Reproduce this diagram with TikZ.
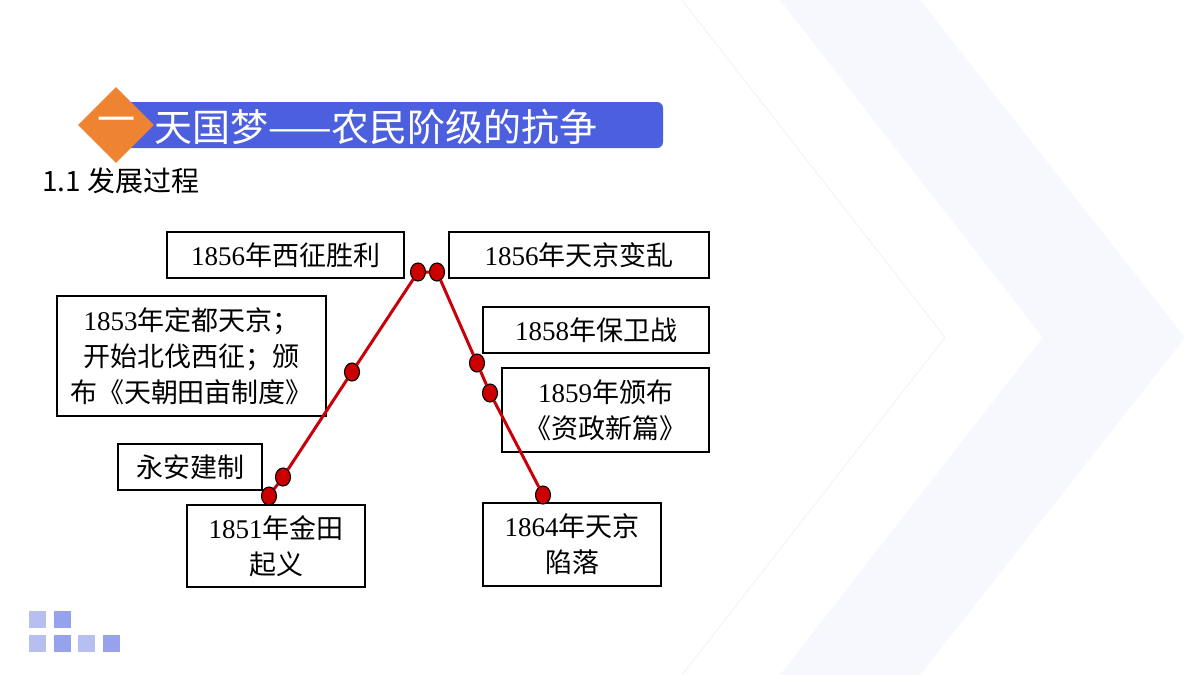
\documentclass[tikz,border=0pt]{standalone}
\usepackage{fontspec}
\usepackage{xcolor}
\usepackage{tikz}
\usetikzlibrary{shapes.geometric}
\setmainfont{Liberation Serif}
\newfontfamily\cjk{Noto Sans CJK SC}
\newcommand{\zh}[1]{{\cjk #1}}
\definecolor{bar}{HTML}{4B5FDF}
\definecolor{badge}{HTML}{EE8432}
\definecolor{chev}{HTML}{F7F8FD}
\definecolor{chevline}{HTML}{F1F2FA}
\definecolor{linered}{HTML}{C8000A}
\definecolor{dotred}{HTML}{CC0000}
\definecolor{sqlight}{HTML}{B7BEF0}
\definecolor{sqdark}{HTML}{97A2EC}
\tikzset{
  evbox/.style={draw, line width=1.6pt, fill=white, align=center, inner sep=0pt,
    font=\fontsize{27}{36}\selectfont},
  dot/.style={ellipse, draw=black, line width=1.1pt, fill=dotred, inner sep=0pt,
    minimum width=15pt, minimum height=18pt},
  redline/.style={draw=linered, line width=3pt},
  sq/.style={minimum size=17pt, inner sep=0pt}
}
\begin{document}
\begin{tikzpicture}[x=1pt, y=-1pt]
\useasboundingbox (0,0) rectangle (1200,675);
\fill[white] (0,0) rectangle (1200,675);
% background chevrons
\fill[chev] (780,0) -- (920,0) -- (1185,337.5) -- (920,675) -- (780,675) -- (1043,337.5) -- cycle;
\draw[chevline, line width=0.8pt] (682,0) -- (945,337.5) -- (682,675);
% header
\fill[bar, rounded corners=6pt] (120,102) rectangle (663,148);
\node[diamond, fill=badge, minimum width=76pt, minimum height=76pt, inner sep=0pt,
  text=white, font=\cjk\fontsize{38}{38}\selectfont] (badge) at (116,125) {一};
\node[anchor=west, inner sep=0pt, text=white, font=\cjk\fontsize{38}{38}\selectfont] (title) at (154,127) {天国梦——农民阶级的抗争};
\node[anchor=west, inner sep=0pt, font=\cjk\fontsize{28}{28}\selectfont] (sub) at (42,181) {1.1 发展过程};
% event boxes
\node[evbox, minimum width=237pt, minimum height=46pt] (xizheng) at (285.5,255) {1856\zh{年西征胜利}};
\node[evbox, minimum width=260pt, minimum height=46pt] (bianluan) at (579,255) {1856\zh{年天京变乱}};
\node[evbox, minimum width=269pt, minimum height=120pt] (dingdu) at (191.5,356) {1853\zh{年定都天京；}\\\zh{开始北伐西征；颁}\\\zh{布《天朝田亩制度》}};
\node[evbox, minimum width=144pt, minimum height=46pt] (yongan) at (190,467) {\zh{永安建制}};
\node[evbox, minimum width=178pt, minimum height=82pt] (jintian) at (276,546) {1851\zh{年金田}\\\zh{起义}};
\node[evbox, minimum width=226pt, minimum height=46pt] (baowei) at (596,330) {1858\zh{年保卫战}};
\node[evbox, minimum width=207pt, minimum height=84pt] (zizheng) at (605.5,410) {1859\zh{年颁布}\\\zh{《资政新篇》}};
\node[evbox, minimum width=178pt, minimum height=83pt] (xianluo) at (572,544.5) {1864\zh{年天京}\\\zh{陷落}};
% timeline
\node[dot] (p1) at (269,496) {};
\node[dot] (p2) at (283,477) {};
\node[dot] (p3) at (352,372) {};
\node[dot] (p4) at (418,272) {};
\node[dot] (p5) at (437,272) {};
\node[dot] (p6) at (477,363) {};
\node[dot] (p7) at (490,393) {};
\node[dot] (p8) at (543,495) {};
\draw[redline] (p1) -- (p2) -- (p3) -- (p4) -- (p5) -- (p6) -- (p7) -- (p8);
% corner squares
\node[sq, fill=sqlight] (s1) at (37.5,619.5) {};
\node[sq, fill=sqdark] (s2) at (62,619.5) {};
\node[sq, fill=sqlight] (s3) at (37.5,643) {};
\node[sq, fill=sqdark] (s4) at (62,643) {};
\node[sq, fill=sqlight] (s5) at (86.5,643) {};
\node[sq, fill=sqdark] (s6) at (111,643) {};
\end{tikzpicture}
\end{document}
